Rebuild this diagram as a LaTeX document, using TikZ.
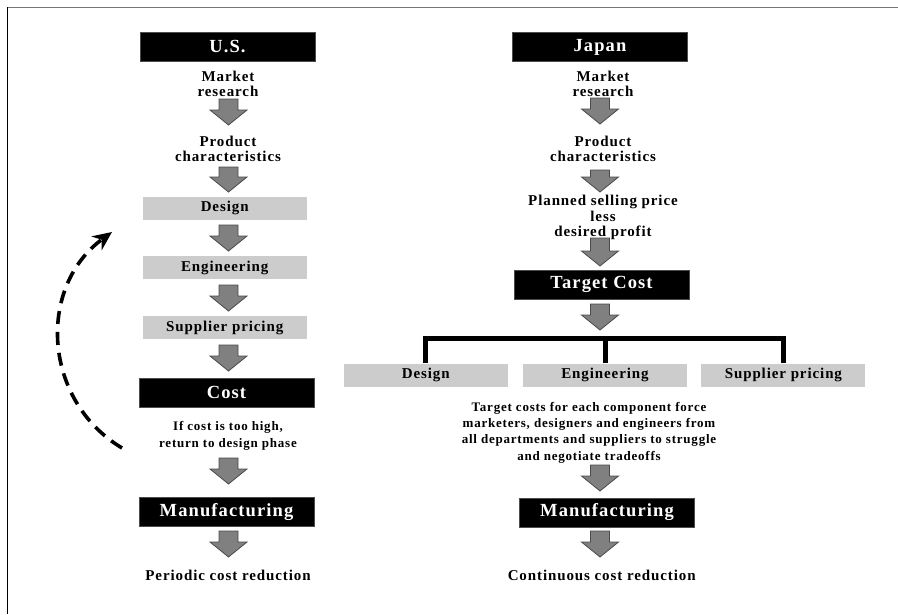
\documentclass[tikz,border=0pt]{standalone}
\usepackage{fontspec}
\setmainfont{Liberation Serif}[LetterSpace=6]
\usetikzlibrary{arrows.meta}
\definecolor{boxgray}{HTML}{CCCCCC}
\definecolor{arrowgray}{HTML}{808080}
\definecolor{arrowedge}{HTML}{4A4A4A}
\definecolor{framegray}{HTML}{777777}
\newcommand{\headfnt}{\bfseries\fontsize{18.5}{20}\selectfont}
\newcommand{\stepfnt}{\bfseries\fontsize{15}{15.7}\selectfont}
\newcommand{\notefnt}{\bfseries\fontsize{13}{16.3}\selectfont}
\tikzset{
  blackbox/.style={fill=black,draw=black!70,line width=0.6pt,text=white,font=\headfnt,
    minimum width=175pt,minimum height=29pt,inner sep=0pt},
  graybox/.style={fill=boxgray,font=\stepfnt,minimum width=164pt,minimum height=23pt,inner sep=0pt},
  lbl/.style={font=\stepfnt,align=center,inner sep=0pt},
  note/.style={font=\notefnt,align=center,inner sep=0pt},
  arrowbody/.style={fill=arrowgray,draw=arrowedge,line width=0.8pt,line join=miter},
  bracket/.style={line width=5pt,line join=miter},
  loopback/.style={line width=3.6pt,dash pattern=on 13pt off 8pt,
    -{Stealth[length=19pt,width=17pt,inset=6pt]}},
  pics/blkdown/.style={code={
    \draw[arrowbody] (-9.5,0) -- (9.5,0) -- (9.5,#1-15) -- (18.5,#1-15) -- (0,#1)
      -- (-18.5,#1-15) -- (-9.5,#1-15) -- cycle;}},
}
\begin{document}
\begin{tikzpicture}[x=1pt,y=-1pt]
  \useasboundingbox (0,0) rectangle (898,614);
  % frame
  \draw[framegray,line width=1.6pt] (7,7.5) -- (898,7.5);
  \draw[black,line width=1.6pt] (7.5,7) -- (7.5,614);

  % U.S. column
  \node[blackbox] (us) at (227.5,46.5) {U.S.};
  \node[lbl] (lmr) at (228,84) {Market\\research};
  \node[lbl] (lpc) at (228,149) {Product\\characteristics};
  \node[graybox] (ldes) at (224.7,208) {Design};
  \node[graybox] (leng) at (224.7,267.5) {Engineering};
  \node[graybox] (lsup) at (224.7,327.5) {Supplier pricing};
  \node[blackbox] (lcost) at (226.5,392.5) {Cost};
  \node[note] (lif) at (228,436) {If cost is too high,\\return to design phase};
  \node[blackbox] (lman) at (226.5,512) {Manufacturing};
  \node[lbl] (lper) at (228,575.5) {Periodic cost reduction};
  \pic at (228.5,99) {blkdown=26};
  \pic at (228.5,167) {blkdown=25};
  \pic at (228.5,225) {blkdown=26};
  \pic at (228.5,285) {blkdown=26};
  \pic at (228.5,345) {blkdown=26};
  \pic at (228.5,458) {blkdown=26};
  \pic at (228.5,531) {blkdown=26};

  % back to design
  \coordinate (loopa) at (122,448);
  \coordinate (loopb) at (112,232);
  \draw[loopback] (loopa) .. controls (42.4,400.2) and (37.1,287) .. (loopb);

  % Japan column
  \node[blackbox] (jap) at (600,47) {Japan};
  \node[lbl] (rmr) at (603,84) {Market\\research};
  \node[lbl] (rpc) at (603,149) {Product\\characteristics};
  \node[lbl] (rpl) at (603,217.5) {Planned selling price\\less\\desired profit};
  \node[blackbox] (rtc) at (601.5,284.5) {Target Cost};
  \node[graybox] (rdes) at (425.8,375) {Design};
  \node[graybox] (reng) at (605,375) {Engineering};
  \node[graybox] (rsup) at (783.4,375) {Supplier pricing};
  \node[note] (rnote) at (589,432.7) {Target costs for each component force\\
    marketers, designers and engineers from\\all departments and suppliers to struggle\\
    and negotiate tradeoffs};
  \node[blackbox] (rman) at (607,512.5) {Manufacturing};
  \node[lbl] (rcont) at (601.7,575.5) {Continuous cost reduction};
  \pic at (600,98) {blkdown=26};
  \pic at (600,170) {blkdown=22};
  \pic at (600,238) {blkdown=28};
  \pic at (600,304) {blkdown=26};
  \pic at (600,465) {blkdown=26};
  \pic at (600,531) {blkdown=26};

  % split to the three groups
  \coordinate (split) at (602,338.5);
  \draw[bracket] (rdes.north) |- (split) -| (rsup.north);
  \draw[bracket] (reng.north) -- (reng.north |- split);
\end{tikzpicture}
\end{document}
